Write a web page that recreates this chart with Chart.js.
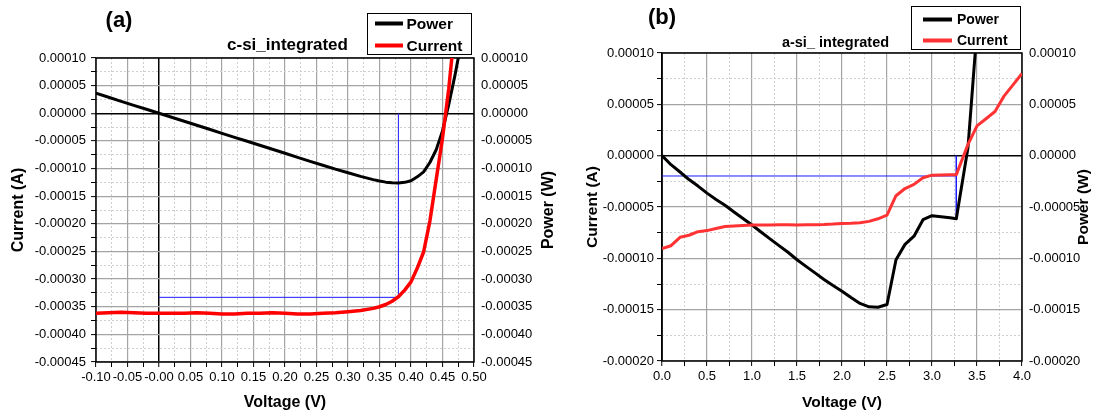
<!DOCTYPE html>
<html>
<head>
<meta charset="utf-8">
<script src="https://cdn.jsdelivr.net/npm/chart.js@4.4.1/dist/chart.umd.min.js"></script>
<style>
  body { margin: 0; background: #fff; }
  #wrap { position: relative; width: 1098px; height: 419px; overflow: hidden; }
  canvas { position: absolute; top: 0; }
  #chartA { left: 0; }
  #chartB { left: 550px; }
</style>
</head>
<body>
<div id="wrap">
  <canvas id="chartA" width="560" height="419"></canvas>
  <canvas id="chartB" width="548" height="419"></canvas>
</div>
<script>
const FONT = "'Liberation Sans', Arial, sans-serif";

// (a) c-si integrated
const voltA = [-0.10, -0.08, -0.06, -0.04, -0.02, 0.00, 0.02, 0.04, 0.06, 0.08,
  0.10, 0.12, 0.14, 0.16, 0.18, 0.20, 0.22, 0.24, 0.26, 0.28,
  0.30, 0.32, 0.34, 0.35, 0.36, 0.37, 0.38, 0.39, 0.40, 0.41,
  0.42, 0.43, 0.44, 0.45, 0.46, 0.47, 0.48];
const currentA = [-0.000362, -0.000361, -0.000360, -0.000361, -0.000362, -0.000362, -0.000362, -0.000362, -0.000361, -0.000362,
  -0.000363, -0.000363, -0.000362, -0.000362, -0.000361, -0.000362, -0.000363, -0.000363, -0.000362, -0.000361,
  -0.000359, -0.000357, -0.000353, -0.000350, -0.000346, -0.000340, -0.000332, -0.000320, -0.000305, -0.000280,
  -0.000251, -0.000195, -0.000120, -0.000045, 0.000045, 0.000160, 0.000300];
const powerA = [0.0000362, 0.0000289, 0.0000216, 0.0000144, 0.0000072, 0, -0.0000072, -0.0000145, -0.0000217, -0.0000290,
  -0.0000363, -0.0000436, -0.0000507, -0.0000579, -0.0000650, -0.0000724, -0.0000799, -0.0000871, -0.0000941, -0.0001011,
  -0.0001077, -0.0001142, -0.0001200, -0.0001225, -0.0001246, -0.0001258, -0.0001262, -0.0001250, -0.0001220, -0.0001150,
  -0.0001060, -0.0000890, -0.0000660, -0.0000320, 0.0000160, 0.0000700, 0.0001300];
// max power point guide lines
const guideAx = [0, 0.38, 0.38];
const guideAy = [-0.000333, -0.000333, 0];

// (b) a-si integrated
const voltB = [0.0, 0.1, 0.2, 0.3, 0.4, 0.5, 0.6, 0.7, 0.8, 0.9,
  1.0, 1.1, 1.2, 1.3, 1.4, 1.5, 1.6, 1.7, 1.8, 1.9,
  2.0, 2.1, 2.2, 2.3, 2.4, 2.5, 2.6, 2.7, 2.8, 2.9,
  3.0, 3.1, 3.2, 3.27, 3.4, 3.5, 3.6, 3.7, 3.8, 3.9, 4.0];
const currentB = [-0.0000905, -0.0000877, -0.0000795, -0.0000775, -0.0000740, -0.0000730, -0.0000710, -0.0000690, -0.0000685, -0.0000680,
  -0.0000676, -0.0000675, -0.0000675, -0.0000674, -0.0000672, -0.0000676, -0.0000674, -0.0000672, -0.0000670, -0.0000666,
  -0.0000660, -0.0000658, -0.0000654, -0.0000640, -0.0000615, -0.0000580, -0.0000390, -0.0000320, -0.0000280, -0.0000215,
  -0.0000190, -0.0000188, -0.0000187, -0.0000185, 0.0000110, 0.0000290, 0.0000360, 0.0000430, 0.0000580, 0.0000690, 0.0000800];
const powerB = [0, -0.0000088, -0.0000159, -0.0000233, -0.0000296, -0.0000365, -0.0000426, -0.0000483, -0.0000548, -0.0000612,
  -0.0000676, -0.0000743, -0.0000810, -0.0000876, -0.0000941, -0.0001014, -0.0001078, -0.0001142, -0.0001206, -0.0001265,
  -0.0001320, -0.0001382, -0.0001439, -0.0001472, -0.0001476, -0.0001450, -0.0001014, -0.0000864, -0.0000784, -0.0000624,
  -0.0000585, -0.0000595, -0.0000605, -0.0000615, 0.0000080, 0.0001230, 0.0001300, 0.0001590, 0.0002200, 0.0002700, 0.0003200];
const guideBhx = [0, 3.27];
const guideBhy = [-0.0000198, -0.0000198];
const guideBvx = [3.27, 3.27];
const guideBvy = [0, -0.0000615];

const pts = (xs, ys) => xs.map((x, i) => ({ x, y: ys[i] }));
const isMajor = (v, m) => Math.abs(v / m - Math.round(v / m)) < 1e-6;

// frame, titles, right axis title and legend box
const decor = {
  id: 'decor',
  beforeDatasetsDraw(chart) {
    const { ctx, chartArea: a } = chart;
    ctx.save();
    ctx.strokeStyle = '#000';
    ctx.lineWidth = 1.5;
    ctx.strokeRect(a.left, a.top, a.right - a.left, a.bottom - a.top);
    ctx.restore();
  },
  afterDraw(chart, args, o) {
    const ctx = chart.ctx;
    ctx.save();
    ctx.fillStyle = '#000';
    ctx.textAlign = 'center';
    ctx.textBaseline = 'middle';
    ctx.font = `bold 22px ${FONT}`;
    ctx.fillText(o.panel, o.panelX, o.panelY);
    ctx.font = `bold ${o.titleSize}px ${FONT}`;
    ctx.fillText(o.title, o.titleX, o.titleY);

    ctx.save();
    ctx.translate(o.rightX, o.rightY);
    ctx.rotate(-Math.PI / 2);
    ctx.font = `bold ${o.axisSize}px ${FONT}`;
    ctx.fillText('Power (W)', 0, 0);
    ctx.restore();

    const L = o.legend;
    ctx.strokeStyle = '#000';
    ctx.lineWidth = 1;
    ctx.strokeRect(L.x + 0.5, L.y + 0.5, L.w, L.h);
    ctx.textAlign = 'left';
    ctx.font = `bold ${L.size}px ${FONT}`;
    L.items.forEach((label, i) => {
      const ds = chart.data.datasets.find(d => d.label === label);
      const y = L.rows[i];
      ctx.strokeStyle = ds.borderColor;
      ctx.lineWidth = 4;
      ctx.beginPath();
      ctx.moveTo(L.x1, y);
      ctx.lineTo(L.x2, y);
      ctx.stroke();
      ctx.fillText(label, L.tx, y + 1);
    });
    ctx.restore();
  }
};

function gridOpts(major) {
  return {
    color: (c) => {
      if (!c.tick) return '#000';
      const v = c.tick.value;
      if (Math.abs(v) < 1e-12) return '#000';
      return isMajor(v, major) ? '#a4a4a4' : '#cfcfcf';
    },
    lineWidth: (c) => {
      if (!c.tick) return 1;
      const v = c.tick.value;
      if (Math.abs(v) < 1e-12) return 1.5;
      return isMajor(v, major) ? 1.2 : 1;
    },
    tickColor: '#000',
    tickLength: 5,
    tickWidth: 1
  };
}

function borderOpts(major) {
  return {
    display: false,
    dash: (c) => (c.tick && !isMajor(c.tick.value, major)) ? [2, 2] : []
  };
}

function makeChart(id, p) {
  return new Chart(document.getElementById(id), {
    type: 'line',
    data: {
      datasets: [
        { label: 'Current', data: pts(p.volt, p.current), borderColor: p.red, borderWidth: p.redWidth, yAxisID: 'y' },
        { label: 'Power', data: pts(p.volt, p.power), borderColor: '#000', borderWidth: 3, yAxisID: 'y2' },
        ...p.guides.map(g => ({ label: 'guide', data: pts(g[0], g[1]), borderColor: '#1a1aff', borderWidth: 1, yAxisID: 'y' }))
      ]
    },
    options: {
      responsive: false,
      animation: false,
      devicePixelRatio: 1,
      layout: { padding: { top: p.top, left: 0, right: 0, bottom: 0 } },
      elements: { point: { radius: 0 }, line: { tension: 0, borderJoinStyle: 'round' } },
      plugins: {
        legend: { display: false },
        tooltip: { enabled: false },
        decor: p.decor
      },
      scales: {
        x: {
          type: 'linear',
          min: p.xMin, max: p.xMax,
          afterFit: (s) => { s.height = 419 - p.bottom; },
          ticks: {
            stepSize: p.xStep,
            autoSkip: false, maxRotation: 0, minRotation: 0,
            padding: 3,
            color: '#000',
            font: { family: FONT, size: 13 },
            callback: (v) => isMajor(v, p.xMajor) ? v.toFixed(p.xDigits) : ''
          },
          grid: gridOpts(p.xMajor),
          border: borderOpts(p.xMajor),
          title: {
            display: true, text: 'Voltage (V)', color: '#000',
            font: { family: FONT, size: p.axisSize, weight: 'bold' },
            padding: { top: 0, bottom: 6.5 }
          }
        },
        y: {
          type: 'linear', position: 'left',
          min: p.yMin, max: p.yMax,
          afterFit: (s) => { s.width = p.left; },
          ticks: {
            stepSize: 0.000025,
            autoSkip: false,
            padding: p.yPad,
            color: '#000',
            font: { family: FONT, size: 13 },
            callback: (v) => isMajor(v, 0.00005) ? v.toFixed(5) : ''
          },
          grid: gridOpts(0.00005),
          border: borderOpts(0.00005),
          title: {
            display: true, text: 'Current (A)', color: '#000',
            font: { family: FONT, size: p.axisSize, weight: 'bold' },
            padding: { top: p.leftTitlePad, bottom: 0 }
          }
        },
        y2: {
          type: 'linear', position: 'right',
          min: p.yMin, max: p.yMax,
          afterFit: (s) => { s.width = p.rightW; },
          ticks: {
            stepSize: 0.00005,
            padding: 7,
            color: '#000',
            font: { family: FONT, size: 13 },
            callback: (v) => v.toFixed(5)
          },
          grid: { display: false, drawTicks: false },
          border: { display: false }
        }
      }
    },
    plugins: [decor]
  });
}

makeChart('chartA', {
  volt: voltA, current: currentA, power: powerA,
  guides: [[guideAx, guideAy]],
  red: '#ff0000', redWidth: 3.5,
  xMin: -0.10, xMax: 0.50, xStep: 0.025, xMajor: 0.05, xDigits: 2,
  yMin: -0.00045, yMax: 0.00010,
  top: 58, bottom: 362, left: 96, rightW: 86,
  yPad: 5, leftTitlePad: 9.4, axisSize: 16,
  decor: {
    panel: '(a)', panelX: 119, panelY: 21,
    title: 'c-si_integrated', titleSize: 17, titleX: 287.5, titleY: 45,
    rightX: 549, rightY: 210, axisSize: 16,
    legend: { x: 367, y: 13, w: 104, h: 41, x1: 375, x2: 403, tx: 406.5, rows: [23.5, 45.5], size: 15.5, items: ['Power', 'Current'] }
  }
});

makeChart('chartB', {
  volt: voltB, current: currentB, power: powerB,
  guides: [[guideBhx, guideBhy], [guideBvx, guideBvy]],
  red: '#ff3333', redWidth: 3,
  xMin: 0, xMax: 4.0, xStep: 0.25, xMajor: 0.5, xDigits: 1,
  yMin: -0.00020, yMax: 0.00010,
  top: 53, bottom: 361, left: 112, rightW: 76,
  yPad: 3, leftTitlePad: 33.4, axisSize: 15.5,
  decor: {
    panel: '(b)', panelX: 112, panelY: 18,
    title: 'a-si_ integrated', titleSize: 14.5, titleX: 285.5, titleY: 43,
    rightX: 534, rightY: 207, axisSize: 15.5,
    legend: { x: 361, y: 6, w: 109, h: 43, x1: 373, x2: 402, tx: 407, rows: [19.5, 40.5], size: 14, items: ['Power', 'Current'] }
  }
});
</script>
</body>
</html>
